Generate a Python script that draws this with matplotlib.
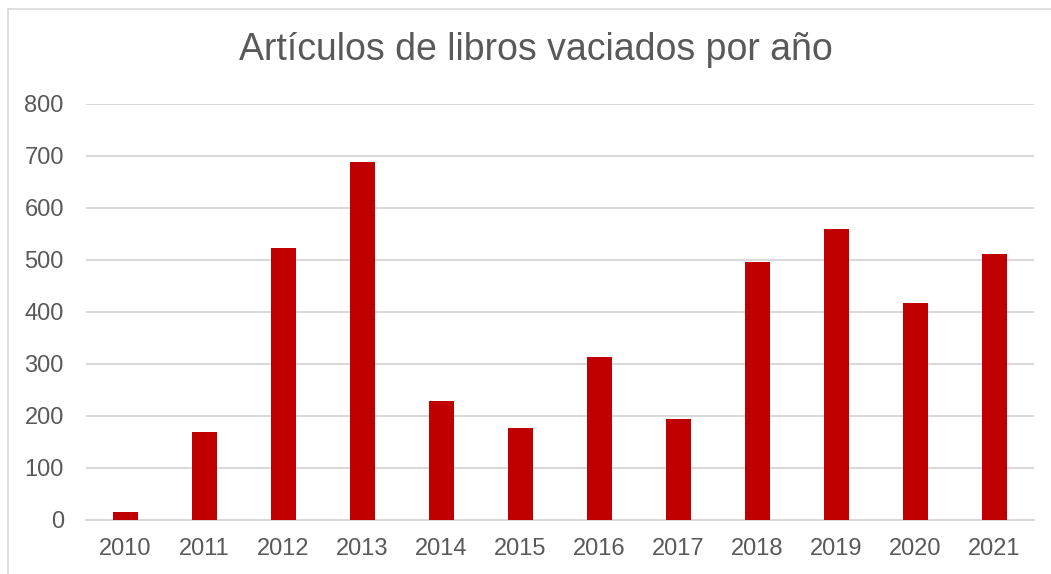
import matplotlib
matplotlib.use("Agg")
import matplotlib.pyplot as plt
from matplotlib.lines import Line2D

years = ["2010", "2011", "2012", "2013", "2014", "2015", "2016", "2017", "2018", "2019", "2020", "2021"]
values = [15, 169, 524, 689, 228, 176, 313, 194, 497, 560, 417, 511]
yticks = [0, 100, 200, 300, 400, 500, 600, 700, 800]
title = "Artículos de libros vaciados por año"

plt.rcParams['font.family'] = ['Liberation Sans', 'DejaVu Sans']

W, H = 1051, 574
fig = plt.figure(figsize=(W / 100, H / 100), dpi=100)
fig.patch.set_facecolor("white")
# chart-area border (left and top visible)
fig.add_artist(Line2D([7.5 / W, 7.5 / W], [0, 1 - 8.5 / H], transform=fig.transFigure,
                      color="#d9d9d9", linewidth=1.2))
fig.add_artist(Line2D([7.5 / W, 1], [1 - 8.5 / H, 1 - 8.5 / H], transform=fig.transFigure,
                      color="#d9d9d9", linewidth=1.2))

ax = fig.add_axes([86 / W, 54 / H, (1034 - 86) / W, (520 - 104) / H])
x = list(range(len(years)))
ax.bar(x, values, width=0.32, color="#c00000", zorder=3)
ax.set_xlim(-0.5, len(years) - 0.5)
ax.set_ylim(0, 800)
ax.set_yticks(yticks)
ax.set_yticklabels([str(v) for v in yticks])
ax.set_xticks(x)
ax.set_xticklabels(years)
ax.grid(axis="y", color="#d9d9d9", linewidth=1.5, zorder=0)
for s in ["top", "right", "left"]:
    ax.spines[s].set_visible(False)
ax.spines["bottom"].set_color("#d9d9d9")
ax.spines["bottom"].set_linewidth(1.5)
ax.tick_params(axis="both", length=0, labelsize=17, labelcolor="#595959")
ax.tick_params(axis="y", pad=16)
ax.tick_params(axis="x", pad=13)

fig.text(536 / W, 1 - 50 / H, title, ha="center", va="center", fontsize=27, color="#595959")

fig.savefig("out.png", dpi=100)
